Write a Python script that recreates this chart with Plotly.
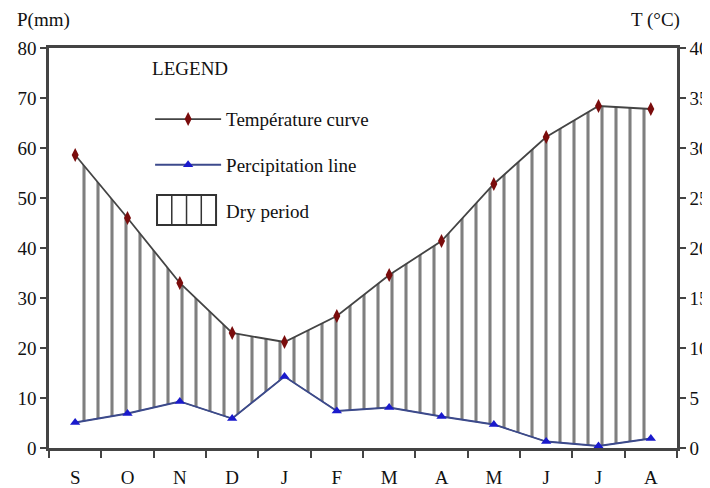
import plotly.graph_objects as go

months = ["S", "O", "N", "D", "J", "F", "M", "A", "M", "J", "J", "A"]
temperature_c = [29.3, 23.0, 16.5, 11.5, 10.6, 13.2, 17.3, 20.7, 26.4, 31.1, 34.2, 33.9]
precip_mm = [5.1, 6.9, 9.3, 5.9, 14.3, 7.4, 8.1, 6.3, 4.7, 1.3, 0.4, 1.9]
p_ticks = [0, 10, 20, 30, 40, 50, 60, 70, 80]
t_ticks = [0, 5, 10, 15, 20, 25, 30, 35, 40]

x = list(range(len(months)))
temp_as_mm = [2 * t for t in temperature_c]  # Gaussen: P = 2T

FONT = "Liberation Serif"
AX = "#444444"
HATCH = "#000000"

fig = go.Figure()

# upper boundary of dry period (temperature on precipitation scale)
fig.add_trace(go.Scatter(x=x, y=temp_as_mm, mode="lines", line=dict(width=0, color="rgba(0,0,0,0)"),
                         showlegend=False, hoverinfo="skip", yaxis="y"))
# dry period hatch
fig.add_trace(go.Scatter(x=x, y=precip_mm, mode="lines", fill="tonexty", name="Dry period",
                         line=dict(width=1.2, color="#555555"),
                         fillcolor="rgba(0,0,0,0)",
                         fillpattern=dict(shape="|", size=14, solidity=0.22, fgcolor=HATCH,
                                          bgcolor="rgba(0,0,0,0)"),
                         showlegend=False, hoverinfo="skip", yaxis="y"))
# legend-only entry for dry period (symbol drawn as a hatched box)
fig.add_trace(go.Scatter(x=[None], y=[None], mode="lines", name="Dry period",
                         line=dict(width=0, color="rgba(0,0,0,0)"),
                         legendgroup="c", legendrank=3, yaxis="y"))
# precipitation
fig.add_trace(go.Scatter(x=x, y=precip_mm, mode="lines+markers", name="Percipitation line",
                         line=dict(width=1.8, color="#3c4a8c"),
                         marker=dict(symbol="triangle-up", size=9, color="#1a1acc"),
                         legendgroup="b", legendrank=2, yaxis="y"))
# temperature
fig.add_trace(go.Scatter(x=x, y=temperature_c, mode="lines+markers", name="Température curve",
                         line=dict(width=1.8, color="#444444"),
                         marker=dict(symbol="diamond-tall", size=10, color="#7a0c0c"),
                         legendgroup="a", legendrank=1, yaxis="y2"))

# hatched box used as the "Dry period" legend symbol
bx0, bx1, by0, by1 = 0.172, 0.266, 0.5575, 0.6325
shapes = [dict(type="rect", xref="paper", yref="paper", x0=bx0, x1=bx1, y0=by0, y1=by1,
               line=dict(color="#333333", width=2), fillcolor="rgba(0,0,0,0)")]
for k in range(1, 4):
    xv = bx0 + (bx1 - bx0) * k / 4
    shapes.append(dict(type="line", xref="paper", yref="paper", x0=xv, x1=xv, y0=by0, y1=by1,
                       line=dict(color="#333333", width=1.5)))

# the page body has an 8px margin, so the figure is sized to fill the rest of the window
fig.update_layout(
    width=702, height=480,
    margin=dict(l=41, r=33, t=40, b=40, autoexpand=False),
    paper_bgcolor="white", plot_bgcolor="white",
    font=dict(family=FONT, size=19, color="#111111"),
    showlegend=True,
    legend=dict(x=0.161, y=0.993, xanchor="left", yanchor="top",
                title=dict(text="LEGEND<br> ", font=dict(family=FONT, size=19)),
                traceorder="grouped", tracegroupgap=18, itemwidth=66,
                bgcolor="rgba(255,255,255,0)", font=dict(family=FONT, size=19)),
    xaxis=dict(range=[-0.5, 11.5], tickmode="array", tickvals=x, ticktext=months,
               ticks="", showgrid=False, zeroline=False, automargin=False,
               showline=True, linecolor=AX, linewidth=2.5, mirror=True,
               ticklabelstandoff=10,
               minor=dict(tickmode="linear", tick0=-0.5, dtick=1, ticks="outside",
                          ticklen=7, tickwidth=2, tickcolor=AX, showgrid=False)),
    yaxis=dict(range=[0, 80], tickmode="array", tickvals=p_ticks, ticks="outside",
               ticklen=6, tickwidth=2, tickcolor=AX, showgrid=False, zeroline=False,
               automargin=False, showline=True, linecolor=AX, linewidth=2.5),
    yaxis2=dict(range=[0, 40], tickmode="array", tickvals=t_ticks, ticks="outside",
                ticklen=6, tickwidth=2, tickcolor=AX, showgrid=False, zeroline=False,
                automargin=False, overlaying="y", side="right", showline=True,
                linecolor=AX, linewidth=2.5),
    shapes=shapes,
    annotations=[
        dict(text="P(mm)", xref="paper", yref="paper", x=-0.054, y=1.07,
             xanchor="left", yanchor="middle", showarrow=False, font=dict(family=FONT, size=19)),
        dict(text="T (°C)", xref="paper", yref="paper", x=1.008, y=1.07,
             xanchor="right", yanchor="middle", showarrow=False, font=dict(family=FONT, size=19)),
    ],
)

fig.write_html("out.html")
